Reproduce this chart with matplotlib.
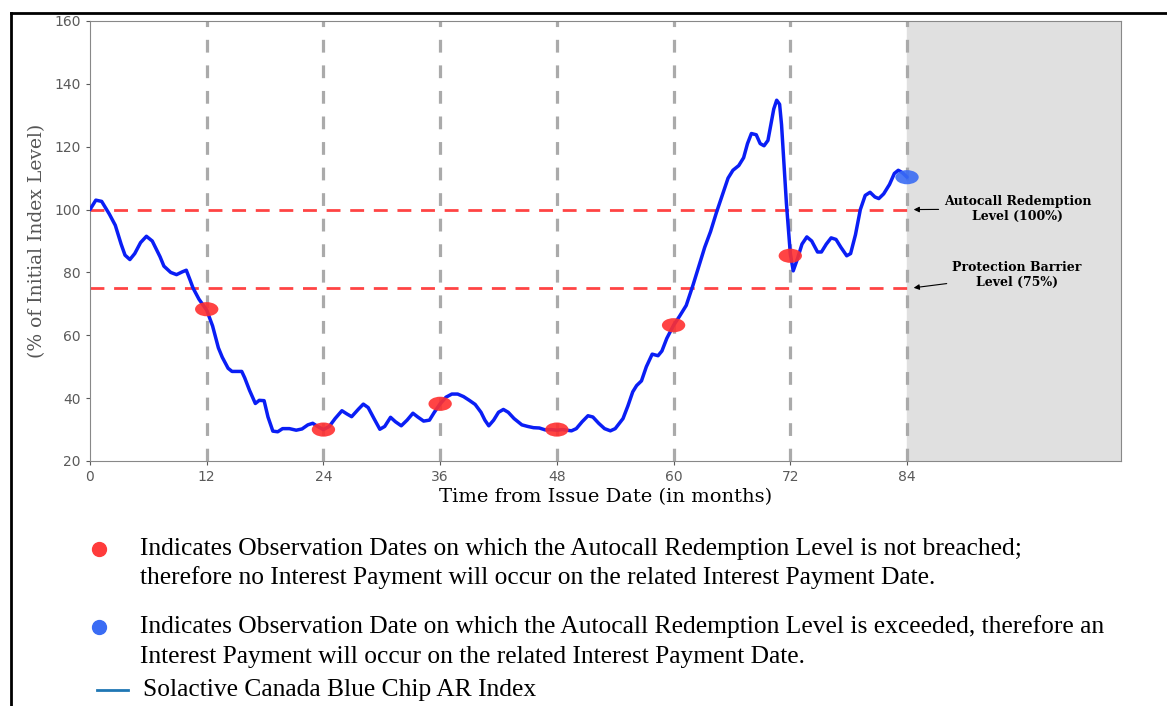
import numpy as np
import matplotlib
matplotlib.use("Agg")
import matplotlib.pyplot as plt
from matplotlib.patches import Ellipse
from matplotlib.lines import Line2D

# index path (months, % of initial level)
months = [0, 0.6, 1.2, 2.0, 2.6, 3.2, 3.6, 4.1, 4.6, 5.2, 5.8, 6.4, 7.2, 7.6, 8.3, 8.9,
          9.5, 9.9, 10.3, 10.6, 11.2, 12, 12.6, 13.2, 13.6, 14.2, 14.6, 15.6, 15.9, 16.4,
          17.0, 17.4, 17.9, 18.3, 18.8, 19.3, 19.8, 20.5, 21.2, 21.8, 22.4, 22.9, 23.4, 24,
          24.6, 25.2, 25.9, 26.4, 26.9, 27.6, 28.1, 28.6, 29.2, 29.8, 30.3, 30.9, 31.4, 32.0,
          32.6, 33.2, 33.7, 34.3, 34.9, 35.4, 36, 36.6, 37.2, 37.8, 38.4, 39.0, 39.6, 40.2,
          40.6, 41.0, 41.5, 42.0, 42.5, 43.0, 43.6, 44.4, 45.0, 45.6, 46.2, 46.8, 47.4, 48,
          48.6, 49.5, 50.0, 50.6, 51.2, 51.7, 52.3, 52.9, 53.5, 54.0, 54.8, 55.3, 55.8, 56.2,
          56.7, 57.2, 57.8, 58.4, 58.8, 59.3, 60, 60.6, 61.3, 62.0, 62.6, 63.2, 63.8, 64.4,
          65.0, 65.6, 66.1, 66.7, 67.2, 67.6, 68.0, 68.5, 68.9, 69.3, 69.7, 70.0, 70.3, 70.6,
          70.9, 71.1, 71.3, 71.6, 71.9, 72, 72.3, 72.7, 73.2, 73.7, 74.2, 74.8, 75.2, 75.7,
          76.2, 76.7, 77.2, 77.8, 78.2, 78.7, 79.2, 79.7, 80.2, 80.7, 81.1, 81.6, 82.2, 82.7,
          83.1, 83.5, 84]
level = [100, 103, 102.6, 98.5, 95, 89, 85.5, 84.1, 86, 89.5, 91.5, 90, 85, 82, 80, 79.3,
         80.2, 80.7, 77.5, 75, 71.5, 68, 63, 56, 53, 49.5, 48.5, 48.5, 46.5, 42.5,
         38.3, 39.3, 39.2, 34, 29.5, 29.3, 30.3, 30.3, 29.8, 30.2, 31.5, 32, 31, 30,
         31, 33.5, 36, 35, 34.1, 36.5, 38.1, 37, 33.5, 30.1, 31, 33.9, 32.5, 31.2,
         33, 35.2, 34, 32.7, 33, 35.5, 38.2, 40.3, 41.3, 41.3, 40.5, 39.3, 38, 35.5,
         33, 31.2, 33, 35.5, 36.4, 35.5, 33.5, 31.5, 31, 30.6, 30.5, 29.9, 30, 29.8,
         30, 29.6, 30.3, 32.5, 34.4, 34, 32, 30.3, 29.6, 30.3, 33.5, 37.5, 42, 44,
         45.5, 50, 54, 53.5, 55, 59, 63.2, 66, 69.5, 76, 82, 88, 93, 99,
         104.5, 110, 112.5, 114, 116.5, 121, 124.2, 123.8, 121, 120.3, 122, 127, 132, 134.8,
         133.5, 127, 117, 102, 90, 86, 80.5, 84, 89, 91.3, 90, 86.5, 86.5, 89,
         91, 90.5, 88, 85.3, 86, 92, 100, 104.5, 105.5, 104, 103.5, 105, 108, 111.5,
         112.5, 111.8, 110.3]

obs_red_t = [12, 24, 36, 48, 60, 72]
obs_red_v = [68.3, 30, 38.2, 30, 63.2, 85.3]
obs_blue_t = [84]
obs_blue_v = [110.3]
obs_lines = [12, 24, 36, 48, 60, 72, 84]
autocall = 100
barrier = 75

fig = plt.figure(figsize=(11.67, 7.06), dpi=100)
ax = fig.add_axes([90 / 1167, 1 - 461 / 706, (1121 - 90) / 1167, (461 - 21) / 706])

ax.axvspan(84, 106, color="#e0e0e0", zorder=0)
for t in obs_lines:
    ax.axvline(t, color="#aaaaaa", lw=2.3, ls=(0, (4, 4)), zorder=1)
ax.axhline(autocall, xmax=84 / 106, color="#ff4444", lw=2, ls=(0, (5, 3.5)), zorder=2)
ax.axhline(barrier, xmax=84 / 106, color="#ff4444", lw=2, ls=(0, (5, 3.5)), zorder=2)

ax.plot(months, level, color="#0a1ef5", lw=2.5, zorder=3,
        solid_joinstyle="round", solid_capstyle="round")

for t, v in zip(obs_red_t, obs_red_v):
    ax.add_patch(Ellipse((t, v), 2.4, 4.5, color="#ff3030", alpha=0.9, zorder=4, lw=0))
for t, v in zip(obs_blue_t, obs_blue_v):
    ax.add_patch(Ellipse((t, v), 2.4, 4.5, color="#3a6cf4", alpha=0.9, zorder=4, lw=0))

ax.set_xlim(0, 106)
ax.set_ylim(20, 160)
ax.set_xticks([0, 12, 24, 36, 48, 60, 72, 84])
ax.set_yticks(range(20, 161, 20))
ax.tick_params(colors="#5a5a5a", labelsize=10, length=3, width=0.8)
for s in ax.spines.values():
    s.set_color("#888888")

ax.set_xlabel("Time from Issue Date (in months)", family="DejaVu Serif", fontsize=14,
              color="black", labelpad=3)
ax.set_ylabel("(% of Initial Index Level)", family="DejaVu Serif", fontsize=13.5,
              color="#555555", labelpad=6)

arrow = dict(arrowstyle="-|>", color="black", lw=0.8, mutation_scale=8)
ax.annotate("Autocall Redemption\nLevel (100%)", xy=(84.4, autocall), xytext=(95.4, 100.2),
            ha="center", va="center", fontsize=9, fontweight="bold", family="DejaVu Serif",
            arrowprops=arrow)
ax.annotate("Protection Barrier\nLevel (75%)", xy=(84.4, barrier), xytext=(95.3, 79.3),
            ha="center", va="center", fontsize=9, fontweight="bold", family="DejaVu Serif",
            arrowprops=arrow)

# outer frame (cut off at right and bottom)
fy = 1 - 13 / 706
fx = 11 / 1167
fig.add_artist(Line2D([fx, fx], [0, fy], color="black", lw=2, transform=fig.transFigure))
fig.add_artist(Line2D([fx, 1], [fy, fy], color="black", lw=2, transform=fig.transFigure))

# legend below the chart
tx = 140 / 1167
lfont = dict(family="Liberation Serif", fontsize=18.4, va="center", ha="left")
fig.add_artist(Line2D([99 / 1167], [1 - 549 / 706], marker="o", ms=10, color="#ff3b3b",
                      lw=0, transform=fig.transFigure))
fig.text(tx, 1 - 549 / 706, "Indicates Observation Dates on which the Autocall Redemption "
         "Level is not breached;", **lfont)
fig.text(tx, 1 - 578 / 706, "therefore no Interest Payment will occur on the related "
         "Interest Payment Date.", **lfont)
fig.add_artist(Line2D([99 / 1167], [1 - 627 / 706], marker="o", ms=10, color="#3a6cf4",
                      lw=0, transform=fig.transFigure))
fig.text(tx, 1 - 627 / 706, "Indicates Observation Date on which the Autocall Redemption "
         "Level is exceeded, therefore an", **lfont)
fig.text(tx, 1 - 657 / 706, "Interest Payment will occur on the related Interest Payment Date.",
         **lfont)
fig.add_artist(Line2D([97 / 1167, 128 / 1167], [1 - 690 / 706] * 2, color="#1f77b4", lw=2,
                      transform=fig.transFigure))
fig.text(143 / 1167, 1 - 690 / 706, "Solactive Canada Blue Chip AR Index", **lfont)

fig.savefig("out.png", dpi=100)
